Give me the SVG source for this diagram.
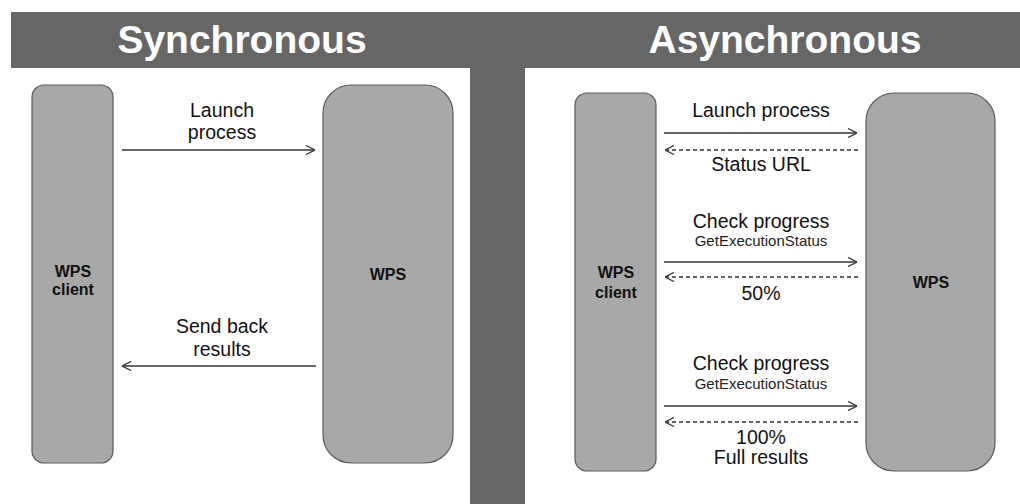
<svg xmlns="http://www.w3.org/2000/svg" width="1020" height="504" viewBox="0 0 1020 504">
  <style>
    .band { fill: #666666; }
    .title { font-family: "Liberation Sans", Arial, sans-serif; font-weight: bold; font-size: 39px; fill: #ffffff; text-anchor: middle; }
    .box { fill: #a8a8a8; stroke: #5a5a5a; stroke-width: 1.2; }
    .boxlabel { font-family: "Liberation Sans", Arial, sans-serif; font-weight: bold; font-size: 16px; fill: #111111; text-anchor: middle; }
    .label { font-family: "Liberation Sans", Arial, sans-serif; font-size: 19.5px; fill: #111111; text-anchor: middle; }
    .small { font-family: "Liberation Sans", Arial, sans-serif; font-size: 15px; fill: #222222; text-anchor: middle; }
    .msg { fill: none; stroke: #333333; stroke-width: 1.3; }
    .reply { fill: none; stroke: #333333; stroke-width: 1.3; stroke-dasharray: 4 3; }
  </style>
  <defs>
    <marker id="head" viewBox="0 0 10 10" refX="10" refY="5" markerWidth="10" markerHeight="10" markerUnits="userSpaceOnUse" orient="auto">
      <path d="M1,0.5 L10,5 L1,9.5" fill="none" stroke="#333333" stroke-width="1.3"/>
    </marker>
  </defs>

  <rect width="1020" height="504" fill="#ffffff"/>

  <!-- header band and centre divider -->
  <rect class="band" x="11" y="12" width="1009" height="56"/>
  <rect class="band" x="470" y="68" width="55" height="436"/>
  <text class="title" x="242" y="53">Synchronous</text>
  <text class="title" x="785" y="53">Asynchronous</text>

  <!-- synchronous side -->
  <g id="sync-client">
    <rect class="box" x="32" y="85" width="81" height="378" rx="12" ry="12"/>
    <text class="boxlabel" x="73" y="277">WPS</text>
    <text class="boxlabel" x="73" y="295">client</text>
  </g>
  <g id="sync-server">
    <rect class="box" x="323" y="85" width="130" height="378" rx="28" ry="28"/>
    <text class="boxlabel" x="388" y="280">WPS</text>
  </g>

  <!-- asynchronous side -->
  <g id="async-client">
    <rect class="box" x="575" y="93" width="81" height="378" rx="12" ry="12"/>
    <text class="boxlabel" x="616" y="278">WPS</text>
    <text class="boxlabel" x="616" y="298">client</text>
  </g>
  <g id="async-server">
    <rect class="box" x="866" y="93" width="129" height="378" rx="28" ry="28"/>
    <text class="boxlabel" x="931" y="288">WPS</text>
  </g>

  <g id="connectors">
    <!-- synchronous -->
    <line class="msg" x1="122" y1="150" x2="315" y2="150" marker-end="url(#head)"/>
    <line class="msg" x1="316" y1="366" x2="122" y2="366" marker-end="url(#head)"/>
    <!-- asynchronous -->
    <line class="msg" x1="664" y1="133" x2="857" y2="133" marker-end="url(#head)"/>
    <line class="reply" x1="858" y1="150" x2="665" y2="150" marker-end="url(#head)"/>
    <line class="msg" x1="664" y1="262" x2="857" y2="262" marker-end="url(#head)"/>
    <line class="reply" x1="858" y1="277" x2="665" y2="277" marker-end="url(#head)"/>
    <line class="msg" x1="664" y1="406" x2="857" y2="406" marker-end="url(#head)"/>
    <line class="reply" x1="858" y1="422" x2="665" y2="422" marker-end="url(#head)"/>
  </g>

  <g id="labels">
    <text class="label" x="222" y="117">Launch</text>
    <text class="label" x="222" y="139">process</text>
    <text class="label" x="222" y="333">Send back</text>
    <text class="label" x="222" y="356">results</text>

    <text class="label" x="761" y="117">Launch process</text>
    <text class="label" x="761" y="171">Status URL</text>
    <text class="label" x="761" y="228">Check progress</text>
    <text class="small" x="761" y="246">GetExecutionStatus</text>
    <text class="label" x="761" y="300">50%</text>
    <text class="label" x="761" y="370">Check progress</text>
    <text class="small" x="761" y="389">GetExecutionStatus</text>
    <text class="label" x="761" y="444">100%</text>
    <text class="label" x="761" y="464">Full results</text>
  </g>
</svg>
